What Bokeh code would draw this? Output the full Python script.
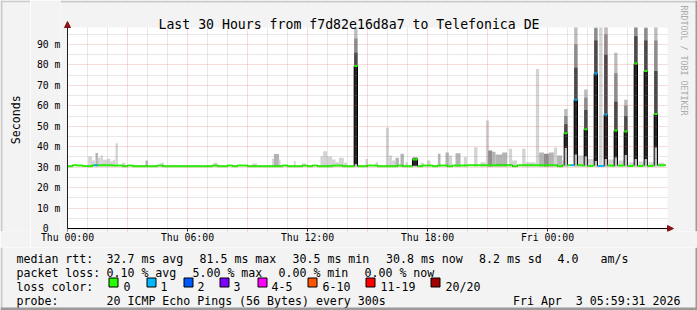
import math
from bokeh.plotting import figure
from bokeh.layouts import column, row
from bokeh.models import Range1d, FixedTicker, Label, BoxAnnotation, Arrow, NormalHead
from bokeh.core.properties import value
from bokeh.embed import file_html
from bokeh.resources import INLINE

# ---------------- data ----------------
TITLE = "Last 30 Hours from f7d82e16d8a7 to Telefonica DE"
X_TICKS = [0, 6, 12, 18, 24]
X_TICK_LABELS = ["Thu 00:00", "Thu 06:00", "Thu 12:00", "Thu 18:00", "Fri 00:00"]
Y_TICKS = [0, 10, 20, 30, 40, 50, 60, 70, 80, 90]
Y_TICK_LABELS = ["0\u00a0\u00a0", "10 m", "20 m", "30 m", "40 m", "50 m", "60 m", "70 m", "80 m", "90 m"]
Y_TOP = 98.3            # top of the value axis (ms)
X_END = 30              # hours shown

# median rtt (ms) of the quiet baseline, one value per 15 minutes from Thu 00:00
median_15min = [
    30.5, 30.9, 30.8, 30.6,  30.5, 30.9, 30.9, 30.9,  30.9, 30.8, 30.8, 30.5,
    30.8, 30.5, 30.5, 30.5,  30.5, 30.5, 30.8, 30.5,  30.5, 30.5, 30.5, 30.5,
    30.5, 30.5, 30.5, 30.5,  30.5, 30.8, 30.5, 30.5,  30.8, 30.5, 30.8, 30.8,
    30.5, 30.5, 30.5, 30.5,  30.5, 30.5, 30.5, 30.8,  30.5, 30.5, 30.5, 30.8,
    30.5, 30.8, 30.5, 30.5,  30.5, 30.8, 30.8, 30.5,  30.5, 30.5, 30.5, 30.5,
    30.8, 30.8, 30.5, 30.5,  30.5, 30.5, 30.8, 30.5,  30.5, 30.5, 30.5, 30.8,
    30.8, 30.5, 30.8, 30.8,  30.4, 30.8, 30.8, 30.8,  30.9, 30.9, 30.9, 30.9,
    30.9, 30.9, 31.0, 31.0,  31.0, 30.4, 30.9, 30.9,  30.9, 30.9, 30.9, 30.9,
    30.9, 30.9, 30.4, 30.9,  30.9, 30.9, 30.9, 30.8,  30.6, 30.8, 30.6, 30.6,
    30.8, 30.6, 30.8, 30.8,  30.6, 30.8, 30.6, 30.8,  30.6, 30.8, 30.9, 30.9,
]
N_SAMPLES = 359          # 5-minute samples shown
SMOKE_FLOOR = 30.2       # lowest single ping

# intervals with lost pings on the baseline (minutes since Thu 00:00)
loss_from_min = [80, 1510, 1590]
loss_to_min = [90, 1520, 1610]
loss_count = [1, 1, 1]

# high-latency episodes (minutes since Thu 00:00)
spike_start_min = [860, 1035, 1490, 1520, 1550, 1580, 1610, 1640, 1670, 1700, 1730, 1760]
spike_len_min = [10, 15, 10, 10, 10, 10, 10, 10, 10, 10, 10, 10]
spike_median = [79.5, 33.8, 46.6, 63.0, 48.6, 75.8, 55.8, 48.0, 47.5, 80.7, 77.0, 56.0]
spike_loss = [0, 0, 0, 1, 0, 1, 1, 0, 0, 0, 0, 0]
spike_low = [31.5, 30.8, 39.5, 36.3, 35.4, 33.0, 34.0, 34.8, 36.0, 34.0, 34.0, 39.8]
spike_p75 = [86.0, 34.2, 51.0, 78.6, 58.0, 92.0, 85.0, 62.0, 55.0, 94.0, 92.0, 77.0]
spike_p90 = [93.0, 34.6, 55.0, 90.0, 64.0, 98.0, 95.0, 76.0, 60.0, 99.0, 98.0, 92.0]
spike_max = [100.0, 35.0, 58.5, 100.0, 68.0, 100.0, 100.0, 86.0, 63.0, 100.0, 100.0, 100.0]

# scattered smoke (outlier pings) above the baseline, in hours
bump_from = [1.03, 1.23, 1.40, 1.52, 1.65, 1.77, 1.98, 2.15, 2.27, 2.40,
             2.73, 3.90, 4.65, 7.30, 9.23, 10.23, 10.32, 10.57, 11.32, 11.73,
             12.65, 12.78, 12.98, 13.23, 13.40, 13.57, 13.82, 14.90, 15.40, 15.92,
             16.07, 16.23, 16.40, 16.65, 16.90, 17.65, 17.98, 18.52, 18.90, 19.07,
             19.40, 19.82, 20.33, 20.65, 20.92, 21.03, 21.23, 21.40, 21.73, 22.07,
             22.23, 22.73, 22.90, 23.42, 23.58, 23.82, 24.07, 24.32, 24.48, 24.73,
             25.52, 26.00, 26.58, 27.03, 27.55, 28.05, 28.55, 29.05, 29.55]
bump_to = [1.23, 1.37, 1.52, 1.65, 1.77, 1.98, 2.15, 2.27, 2.40, 2.52,
           2.90, 4.02, 4.82, 7.50, 9.48, 10.32, 10.57, 10.65, 11.40, 11.90,
           12.78, 12.98, 13.23, 13.40, 13.57, 13.82, 13.98, 15.02, 15.52, 16.07,
           16.23, 16.40, 16.57, 16.82, 17.02, 17.82, 18.15, 18.65, 19.07, 19.23,
           19.65, 19.98, 20.50, 20.90, 21.08, 21.23, 21.40, 21.73, 21.98, 22.23,
           22.48, 22.90, 23.40, 23.58, 23.82, 24.07, 24.32, 24.48, 24.73, 24.83,
           25.82, 26.30, 26.75, 27.33, 27.85, 28.35, 28.85, 29.35, 29.85]
bump_top = [35.2, 33.3, 36.9, 34.6, 35.7, 33.6, 34.1, 33.0, 33.6, 41.7,
            32.2, 33.3, 32.2, 32.2, 31.8, 34.1, 36.5, 33.7, 33.0, 31.8,
            35.3, 37.8, 35.2, 33.7, 32.4, 34.6, 32.2, 34.0, 32.4, 49.4,
            35.7, 33.3, 34.6, 36.6, 32.4, 32.2, 33.3, 36.6, 37.2, 35.7,
            36.8, 35.0, 39.8, 32.4, 52.8, 38.2, 37.6, 36.2, 37.2, 39.0,
            33.3, 39.0, 32.4, 78.0, 37.2, 36.6, 37.2, 39.6, 35.7, 33.3,
            35.7, 34.0, 100.0, 33.7, 33.3, 32.4, 32.8, 32.4, 32.2]
bump_shade = ["l", "l", "m", "l", "l", "l", "l", "l", "l", "l",
              "l", "m", "l", "l", "l", "l", "m", "l", "l", "l",
              "l", "l", "l", "l", "l", "l", "l", "l", "l", "l",
              "l", "l", "m", "m", "l", "l", "l", "m", "m", "l",
              "m", "l", "l", "l", "l", "d", "m", "m", "m", "l",
              "l", "l", "l", "l", "m", "d", "m", "l", "m", "l",
              "l", "l", "l", "l", "l", "l", "l", "l", "l"]

loss_labels = ["0", "1", "2", "3", "4-5", "6-10", "11-19", "20/20"]
loss_colors = ["#26ff00", "#00b8ff", "#0059ff", "#7e00ff", "#ff00ff", "#ff5500", "#ff0000", "#a10000"]

legend_row1 = ["median rtt:", "32.7 ms avg", "81.5 ms max", "30.5 ms min", "30.8 ms now",
               "8.2 ms sd", "4.0", "am/s"]
legend_row2 = ["packet loss:", "0.10 % avg", "5.00 % max", "0.00 % min", "0.00 % now"]
PROBE = "20 ICMP Echo Pings (56 Bytes) every 300s"
STAMP = "Fri Apr\u00a0 3 05:59:31 2026"

# ---------------- layout constants (canvas pixels) ----------------
MONO = "DejaVu Sans Mono"
BG = "#f3f3f3"
LIGHT_EDGE, DARK_EDGE = "#cbcbcb", "#9a9a9a"
PX_H, PX_M = 20.0, 2.044      # pixels per hour / per ms
OX, OY = 67, 228              # canvas position of (Thu 00:00, 0 ms)
LEFT_W = 30                   # width of the "Seconds" strip
F_L, F_R, F_T, F_B = 60, 697, 0, 231   # frame of the main figure on the canvas
TOP_H = 247                   # height of chart row
W, H = 697, 310

row1_x = [16, 106, 199, 292, 385.5, 478.5, 557, 600]
row2_x = [16, 106, 192, 278, 364]
row3_x = [123, 160, 197, 233, 271, 322, 380, 445]
box_x = [108.5, 146.5, 183.5, 219.5, 257.5, 307.5, 365.5, 430.5]

def hx(x):      # canvas x -> hours
    return (x - OX) / PX_H

def my(y):      # canvas y -> ms
    return (OY - y) / PX_M

# ---------------- derived series ----------------
def loss_color(n):
    if n <= 3:
        return loss_colors[n]
    if n <= 5:
        return loss_colors[4]
    if n <= 10:
        return loss_colors[5]
    if n <= 19:
        return loss_colors[6]
    return loss_colors[7]

med = [median_15min[k // 3] for k in range(N_SAMPLES)]
loss = [0] * N_SAMPLES
for a, b, n in zip(loss_from_min, loss_to_min, loss_count):
    for k in range(a // 5, b // 5):
        loss[k] = n
for s, n, m, l in zip(spike_start_min, spike_len_min, spike_median, spike_loss):
    for k in range(s // 5, (s + n) // 5):
        med[k] = m
        loss[k] = l

t0 = [k / 12 for k in range(N_SAMPLES)]
t1 = [(k + 1) / 12 for k in range(N_SAMPLES)]
seg_colors = [loss_color(n) for n in loss]
sp_left = [s / 60 for s in spike_start_min]
sp_right = [(s + n) / 60 for s, n in zip(spike_start_min, spike_len_min)]

# ---------------- main chart ----------------
p = figure(width=W - LEFT_W, height=TOP_H, output_backend="svg", toolbar_location=None,
           x_range=Range1d(hx(F_L), hx(F_R)), y_range=Range1d(my(F_B), my(F_T)),
           min_border_left=F_L - LEFT_W, min_border_right=0, min_border_top=0,
           min_border_bottom=TOP_H - F_B)
p.title.visible = False
p.background_fill_color = "white"
p.border_fill_color = BG
p.outline_line_color = None

shade_col = {"l": "#d4d4d4", "m": "#b4b4b4", "d": "#8f8f8f"}
p.quad(left=bump_from, right=bump_to, bottom=[SMOKE_FLOOR] * len(bump_from), top=bump_top,
       fill_color=[shade_col[s] for s in bump_shade], line_color=None)

floor = [SMOKE_FLOOR] * len(sp_left)
p.quad(left=sp_left, right=sp_right, bottom=floor, top=spike_max, fill_color="#bcbcbc", line_color=None)
p.quad(left=sp_left, right=sp_right, bottom=spike_low, top=spike_p90, fill_color="#8c8c8c", line_color=None)
p.quad(left=sp_left, right=sp_right, bottom=spike_low, top=spike_p75, fill_color="#4a4a4a", line_color=None)
p.quad(left=sp_left, right=sp_right, bottom=spike_low, top=spike_median, fill_color="#262626", line_color=None)

p.step(x=t0 + [t1[-1]], y=med + [med[-1]], mode="after", line_color="black", line_width=1)
p.segment(x0=t0, y0=med, x1=t1, y1=med, line_color=seg_colors, line_width=2)

# grid over the smoke
p.xgrid.ticker = FixedTicker(ticks=[3, 6, 9, 12, 15, 18, 21, 24, 27],
                             minor_ticks=[h for h in range(1, 30) if h % 3])
p.ygrid.ticker = FixedTicker(ticks=list(range(10, 100, 10)), minor_ticks=list(range(5, 100, 10)))
for g in (p.xgrid, p.ygrid):
    g.level = "guide"
    g.grid_line_color = "#de5050"
    g.grid_line_alpha = 0.4
    g.grid_line_dash = "1 1"
    g.minor_grid_line_color = "#8f8f8f"
    g.minor_grid_line_alpha = 0.4
    g.minor_grid_line_dash = "1 1"

# axes (lines drawn as arrows below)
p.xaxis.ticker = FixedTicker(ticks=X_TICKS)
p.xaxis.major_label_overrides = dict(zip(X_TICKS, X_TICK_LABELS))
p.yaxis.ticker = FixedTicker(ticks=Y_TICKS)
p.yaxis.major_label_overrides = dict(zip(Y_TICKS, Y_TICK_LABELS))
for ax in (p.xaxis, p.yaxis):
    ax.major_label_text_font = MONO
    ax.major_label_text_font_size = "9.8px"
    ax.major_label_text_color = "black"
    ax.axis_line_color = None
    ax.major_tick_out = 0
    ax.minor_tick_out = 0
    ax.minor_tick_in = 0
    ax.major_label_standoff = 0
p.xaxis.major_tick_in = F_B - OY
p.xaxis.major_tick_line_color = "#202020"
p.yaxis.major_tick_in = 0

# background outside the plotting area (bottom strip under the grid ticks)
p.add_layout(BoxAnnotation(top=0, fill_color=BG, fill_alpha=1, line_color=None, level="underlay"))
p.add_layout(BoxAnnotation(bottom=Y_TOP, fill_color=BG, fill_alpha=1, line_color=None))
p.add_layout(BoxAnnotation(right=0, fill_color=BG, fill_alpha=1, line_color=None))
p.add_layout(BoxAnnotation(left=X_END, fill_color=BG, fill_alpha=1, line_color=None))
p.add_layout(BoxAnnotation(bottom=my(2), fill_color=LIGHT_EDGE, fill_alpha=1, line_color=None))
p.add_layout(BoxAnnotation(left=hx(695), fill_color=DARK_EDGE, fill_alpha=1, line_color=None))

ARROW = "#8b1414"
p.add_layout(Arrow(end=NormalHead(size=6, fill_color=ARROW, line_color=ARROW),
                   x_start=0, y_start=0, x_end=0, y_end=my(21), line_color="#202020", line_width=1))
p.add_layout(Arrow(end=NormalHead(size=6, fill_color=ARROW, line_color=ARROW),
                   x_start=0, y_start=0, x_end=hx(673), y_end=0, line_color="black", line_width=1))

p.add_layout(Label(x=hx(348.5), y=my(24), text=TITLE, text_font=MONO, text_font_size="13.2px",
                   text_align="center", text_baseline="alphabetic", text_color="black"))
p.add_layout(Label(x=hx(683.5), y=my(60), text="RRDTOOL / TOBI OETIKER", text_font=MONO,
                   text_font_size="8.3px", text_align="center", text_baseline="alphabetic",
                   text_color="#aaaaaa", angle=-math.pi / 2))

# ---------------- left strip with the unit label ----------------
def deco_fig(w, h, x0, y0):
    f = figure(width=w, height=h, output_backend="svg", toolbar_location=None,
               x_range=Range1d(x0, x0 + w), y_range=Range1d(y0 + h, y0),
               x_axis_type=None, y_axis_type=None,
               min_border=0, min_border_left=0, min_border_right=0,
               min_border_top=0, min_border_bottom=0)
    f.title.visible = False
    f.grid.visible = False
    f.background_fill_color = BG
    f.border_fill_color = BG
    f.outline_line_color = None
    return f

pl = deco_fig(LEFT_W, TOP_H, 0, 0)
pl.text(x=[15], y=[127.5], text=["Seconds"], angle=math.pi / 2, text_font=value(MONO),
        text_font_size=value("11.6px"), text_align="center", text_baseline="alphabetic",
        text_color="black")
pl.quad(left=[0, 0], right=[2, LEFT_W], top=[0, 0], bottom=[TOP_H, 2],
        fill_color=LIGHT_EDGE, line_color=None)

# ---------------- legend strip ----------------
pb = deco_fig(W, H - TOP_H, 0, TOP_H)
txt = legend_row1 + legend_row2 + ["loss color:"] + loss_labels + ["probe:", PROBE]
tx = row1_x + row2_x + [16] + row3_x + [16, 106]
ty = [258] * len(legend_row1) + [272] * len(legend_row2) + [286] * (1 + len(loss_labels)) + [300, 300]
pb.text(x=tx, y=ty, text=txt, text_font=value(MONO), text_font_size=value("11.6px"),
        text_align="left", text_baseline="alphabetic", text_color="black")
pb.text(x=[680], y=[300], text=[STAMP], text_font=value(MONO), text_font_size=value("11.6px"),
        text_align="right", text_baseline="alphabetic", text_color="black")
pb.quad(left=box_x, right=[b + 9 for b in box_x], top=[277.5] * 8, bottom=[286.5] * 8,
        fill_color=loss_colors, line_color="black", line_width=1)
pb.quad(left=[0, 695, 0], right=[2, W, W], top=[TOP_H, TOP_H, 307], bottom=[H, H, H],
        fill_color=[LIGHT_EDGE, DARK_EDGE, DARK_EDGE], line_color=None)

layout = column(row(pl, p, spacing=0), pb, spacing=0)
open("out.html", "w").write(file_html(layout, INLINE))
